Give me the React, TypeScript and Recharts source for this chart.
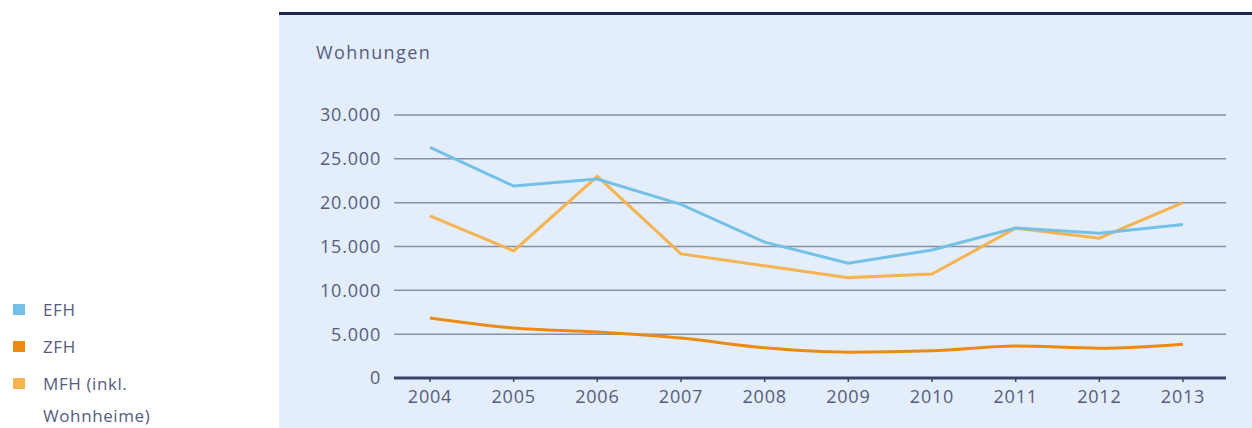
import React from "react";
import { LineChart, Line, XAxis, YAxis, CartesianGrid } from "recharts";

const years = ["2004", "2005", "2006", "2007", "2008", "2009", "2010", "2011", "2012", "2013"];
const efh = [26300, 21900, 22700, 19800, 15500, 13100, 14600, 17100, 16500, 17500];
const zfh = [6850, 5700, 5250, 4550, 3450, 2950, 3100, 3650, 3400, 3850];
const mfh = [18500, 14500, 23000, 14150, 12800, 11450, 11850, 17100, 15950, 20000];
const yTicks = [0, 5000, 10000, 15000, 20000, 25000, 30000];

const data = years.map((year, i) => ({ year, efh: efh[i], zfh: zfh[i], mfh: mfh[i] }));

const FONT = '"Open Sans", "Noto Sans", sans-serif';
const TEXT = "#565c80";
const C_EFH = "#74c0e7";
const C_ZFH = "#ec8a12";
const C_MFH = "#f5b352";

const fmt = (v: number) => String(v).replace(/\B(?=(\d{3})+(?!\d))/g, ".");

const legend = [
  { label: "EFH", color: C_EFH, y: 310 },
  { label: "ZFH", color: C_ZFH, y: 347 },
  { label: "MFH (inkl.", color: C_MFH, y: 384 },
  { label: "Wohnheime)", color: null, y: 416 },
];

const tickStyle = { fill: TEXT, fontSize: 18, fontFamily: FONT, letterSpacing: 0.8 };

export default function App() {
  return (
    <div
      style={{
        position: "absolute",
        left: 0,
        top: 0,
        width: 1252,
        height: 428,
        overflow: "hidden",
        background: "#ffffff",
        fontFamily: FONT,
      }}
    >
      <div
        style={{
          position: "absolute",
          left: 279,
          top: 12,
          width: 973,
          height: 416,
          background: "#e4eefa",
          borderTop: "3px solid #1f2552",
          boxSizing: "border-box",
        }}
      />
      <div
        style={{
          position: "absolute",
          left: 316,
          top: 39,
          fontSize: 18,
          letterSpacing: 1.4,
          color: TEXT,
          lineHeight: "26px",
        }}
      >
        Wohnungen
      </div>
      {legend.map((l) => (
        <React.Fragment key={l.label}>
          {l.color && (
            <div
              style={{
                position: "absolute",
                left: 13,
                top: l.y - 6,
                width: 12,
                height: 11,
                background: l.color,
              }}
            />
          )}
          <div
            style={{
              position: "absolute",
              left: 43,
              top: l.y - 12,
              fontSize: 17,
              letterSpacing: 0.6,
              lineHeight: "24px",
              color: TEXT,
              whiteSpace: "nowrap",
            }}
          >
            {l.label}
          </div>
        </React.Fragment>
      ))}
      <div style={{ position: "absolute", left: 0, top: 0 }}>
        <LineChart
          width={1252}
          height={428}
          data={data}
          margin={{ top: 115, right: 26, bottom: 20, left: 314 }}
        >
          <CartesianGrid vertical={false} stroke="#8890a6" strokeWidth={1.5} />
          <XAxis
            dataKey="year"
            padding={{ left: 36, right: 43 }}
            height={30}
            axisLine={{ stroke: "#3b4368", strokeWidth: 3 }}
            tickLine={{ stroke: "#3b4368", strokeWidth: 1.5 }}
            tickSize={4}
            tickMargin={8}
            tick={tickStyle}
          />
          <YAxis
            width={80}
            domain={[0, 30000]}
            ticks={yTicks}
            axisLine={false}
            tickLine={false}
            tickSize={0}
            tickMargin={13}
            tickFormatter={fmt}
            tick={tickStyle}
          />
          <Line type="linear" dataKey="mfh" stroke={C_MFH} strokeWidth={3} dot={false} isAnimationActive={false} />
          <Line type="linear" dataKey="efh" stroke={C_EFH} strokeWidth={3} dot={false} isAnimationActive={false} />
          <Line type="monotone" dataKey="zfh" stroke={C_ZFH} strokeWidth={3} dot={false} isAnimationActive={false} />
        </LineChart>
      </div>
    </div>
  );
}
